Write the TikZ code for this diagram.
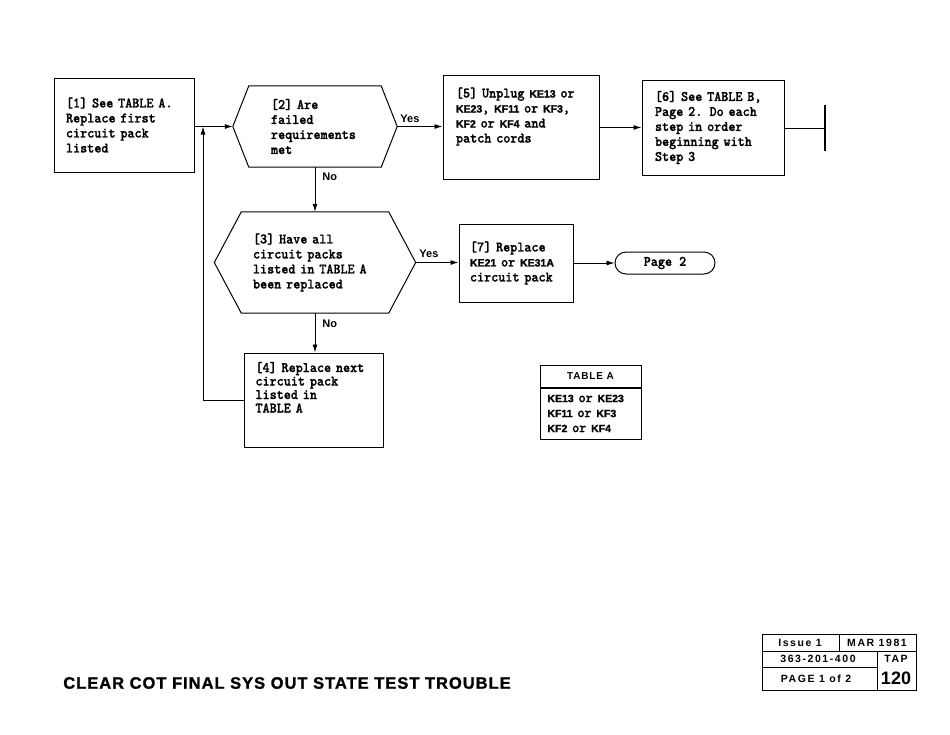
\documentclass[tikz,border=0pt]{standalone}
\usepackage{fontspec}
\usetikzlibrary{arrows.meta,positioning}
\newfontfamily\twfont{lmmonolt10-bold}[Extension=.otf, FakeStretch=0.93, FakeBold=1.2]
\newfontfamily\cpkfont{Liberation Sans}[BoldFeatures={FakeBold=1.6}]
\newfontfamily\lblfont{Liberation Sans}
\newfontfamily\hdfont{Liberation Sans}[LetterSpace=8]
\newfontfamily\titlefont{Liberation Sans}[LetterSpace=6, BoldFeatures={FakeBold=1.2}]
\newfontfamily\infofont{Liberation Sans}[LetterSpace=15]
\newcommand{\twtext}{\twfont\fontsize{14.5}{15}\selectfont}
\newcommand{\cpk}[1]{{\cpkfont\bfseries\fontsize{10.5}{15}\selectfont #1}}
\begin{document}
\begin{tikzpicture}[x=1pt, y=-1pt,
  stepbox/.style={draw, line width=1pt, align=left, inner sep=0pt, font=\twtext},
  askbox/.style={align=left, inner sep=0pt, font=\twtext},
  flow/.style={line width=0.9pt, -{Latex[length=8pt,width=5pt]}},
  lbl/.style={font=\lblfont\bfseries\fontsize{11}{13}\selectfont, inner sep=1pt},
  info/.style={font=\infofont\bfseries\fontsize{10.5}{12}\selectfont, inner sep=0pt}]
\useasboundingbox (0,0) rectangle (950,734);

% first row
\node[stepbox, minimum width=140pt, minimum height=94pt, text width=116pt] (b1) at (124,125)
  {[1] See TABLE A.\\Replace first\\circuit pack\\listed};
\node[askbox, minimum width=164pt, minimum height=81pt, text width=88pt] (q2) at (315,126.5)
  {[2] Are\\failed\\requirements\\met};
\draw[line width=1pt] (q2.west) -- ([xshift=16pt]q2.north west) -- ([xshift=-16pt]q2.north east)
  -- (q2.east) -- ([xshift=-16pt]q2.south east) -- ([xshift=16pt]q2.south west) -- cycle;
\node[stepbox, minimum width=156pt, minimum height=104pt, text width=130pt] (b5) at (521,127)
  {[5] Unplug \cpk{KE13} or\\\cpk{KE23}, \cpk{KF11} or \cpk{KF3},\\\cpk{KF2} or \cpk{KF4} and\\patch cords\\[9pt]\mbox{}};
\node[stepbox, minimum width=142pt, minimum height=95pt, text width=116pt] (b6) at (713,127.5)
  {[6] See TABLE B,\\Page 2. Do each\\step in order\\beginning with\\Step 3};
\coordinate (stop) at (825,128);

\draw[flow] (b1.east |- q2.west) -- (q2.west);
\draw[flow] (q2.east) -- node[lbl, pos=0.28, above=2pt] {Yes} (q2.east -| b5.west);
\draw[flow] (b5.east |- b6.west) -- (b6.west);
\draw[line width=1pt] (b6.east |- stop) -- (stop);
\draw[line width=2.8pt] ([yshift=23pt]stop) -- ([yshift=-23pt]stop);

% second row
\node[askbox, minimum width=201pt, minimum height=101pt, text width=124pt] (q3) at (315,262.5)
  {[3] Have all\\circuit packs\\listed in TABLE A\\been replaced};
\draw[line width=1pt] (q3.west) -- ([xshift=27pt]q3.north west) -- ([xshift=-27pt]q3.north east)
  -- (q3.east) -- ([xshift=-27pt]q3.south east) -- ([xshift=27pt]q3.south west) -- cycle;
\node[stepbox, minimum width=114pt, minimum height=78pt, text width=92pt] (b7) at (516,263)
  {[7] Replace\\\cpk{KE21} or \cpk{KE31A}\\circuit pack};
\node[stepbox, align=center, rounded corners=11pt, minimum width=100pt, minimum height=22pt] (pg2) at (665,263)
  {Page 2};

\draw[flow] (q2.south) -- node[lbl, pos=0.22, right=6pt] {No} (q3.north);
\draw[flow] (q3.east) -- node[lbl, pos=0.31, above=3pt] {Yes} (q3.east -| b7.west);
\draw[flow] (b7.east |- pg2.west) -- (pg2.west);

% third row
\node[stepbox, minimum width=139pt, minimum height=94pt, text width=116pt,
  font=\twfont\fontsize{14.5}{13.5}\selectfont] (b4) at (313.5,400)
  {[4] Replace next\\circuit pack\\listed in\\TABLE A\\[12pt]\mbox{}};
\coordinate (back) at (203,126.5);

\draw[flow] (q3.south) -- node[lbl, pos=0.28, right=6pt] {No} (q3.south |- b4.north);
\draw[flow] (b4.west) -| (back);

% table A
\node[draw, line width=1pt, minimum width=101pt, minimum height=22pt, inner sep=0pt,
  font=\hdfont\bfseries\fontsize{10}{11}\selectfont] (ta) at (590.5,376) {TABLE A};
\node[stepbox, minimum width=101pt, minimum height=51pt, text width=86pt, below=0pt of ta] (tarows)
  {\cpk{KE13} or \cpk{KE23}\\\cpk{KF11} or \cpk{KF3}\\\cpk{KF2} or \cpk{KF4}};

% footer
\node[font=\titlefont\bfseries\fontsize{16.5}{20}\selectfont] (title) at (287,683)
  {CLEAR COT FINAL SYS OUT STATE TEST TROUBLE};
\draw[line width=1pt] (762,634) rectangle (916,690);
\draw[line width=1pt] (762,651) -- (916,651) (762,667) -- (877,667)
  (839,634) -- (839,651) (877,651) -- (877,690);
\node[info] (issue) at (800,643) {Issue 1};
\node[info] (date) at (877,643) {MAR 1981};
\node[info] (docno) at (818,659) {363-201-400};
\node[info] (tap) at (896,659) {TAP};
\node[info] (pageno) at (816,679) {PAGE 1 of 2};
\node[info, font=\lblfont\bfseries\fontsize{18}{20}\selectfont] (tapno) at (896,678) {120};
\end{tikzpicture}
\end{document}
